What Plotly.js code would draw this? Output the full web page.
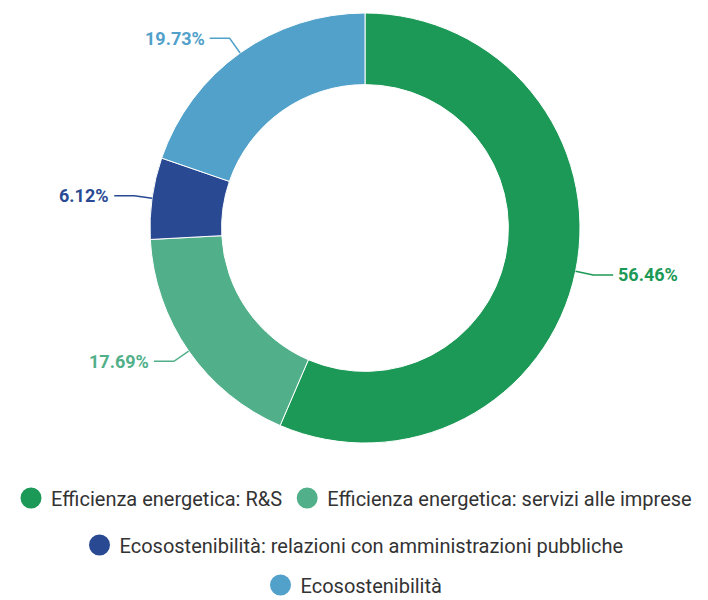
<!DOCTYPE html>
<html><head><meta charset="utf-8">
<script src="https://cdn.plot.ly/plotly-3.0.1.min.js"></script>
<style>html,body{margin:0;padding:0;background:#fff}</style>
</head><body>
<div id="chart" style="width:708px;height:600px"></div>
<script>
// ---- data ----
const categories = [
  "Efficienza energetica: R&S",
  "Efficienza energetica: servizi alle imprese",
  "Ecosostenibilità: relazioni con amministrazioni pubbliche",
  "Ecosostenibilità"
];
const shares = [56.46, 17.69, 6.12, 19.73];
const colors = ["#1c9956", "#51b08a", "#294a93", "#51a1ca"];
const legendRows = ["legend", "legend", "legend2", "legend3"];

// ---- geometry (pixels) ----
const W = 708, H = 600;
const CX = 365, CY = 228, R = 215, HOLE = 0.667;
const ELBOW = 18, RUN = 20, GAP = 3;
const px = x => x / W, py = y => 1 - y / H;

const traces = [{
  type: 'pie',
  values: shares,
  labels: categories,
  marker: {colors: colors, line: {color: '#ffffff', width: 1}},
  hole: HOLE,
  sort: false,
  direction: 'clockwise',
  rotation: 0,
  textinfo: 'none',
  showlegend: false,
  hoverinfo: 'label+percent',
  domain: {x: [px(CX - R), px(CX + R)], y: [py(CY + R), py(CY - R)]}
}];

categories.forEach((c, i) => {
  traces.push({
    type: 'scatter', mode: 'markers', x: [null], y: [null],
    name: c, legend: legendRows[i], hoverinfo: 'skip',
    marker: {color: colors[i], size: 16, line: {color: colors[i], width: 5}}
  });
});

const total = shares.reduce((a, b) => a + b, 0);
const shapes = [], annotations = [];
let cum = 0;
shares.forEach((v, i) => {
  const m = (cum + v / 2) / total;
  cum += v;
  const th = 2 * Math.PI * m;
  const dx = Math.sin(th), dy = -Math.cos(th);
  const x0 = CX + R * dx, y0 = CY + R * dy;
  const x1 = CX + (R + ELBOW) * dx, y1 = CY + (R + ELBOW) * dy;
  const side = dx >= 0 ? 1 : -1;
  const x2 = x1 + side * RUN, y2 = y1;
  shapes.push({
    type: 'path', xref: 'paper', yref: 'paper',
    path: `M ${px(x0)},${py(y0)} L ${px(x1)},${py(y1)} L ${px(x2)},${py(y2)}`,
    line: {color: colors[i], width: 1.5}
  });
  annotations.push({
    xref: 'paper', yref: 'paper', showarrow: false,
    x: px(x2 + side * GAP), y: py(y2),
    xanchor: side > 0 ? 'left' : 'right', yanchor: 'middle',
    text: v.toFixed(2) + '%',
    font: {family: 'Roboto, sans-serif', size: 18, color: colors[i], weight: 700}
  });
});

const legendBase = {
  orientation: 'h', x: 0.5, xanchor: 'center', yanchor: 'middle',
  bgcolor: 'rgba(0,0,0,0)',
  font: {family: 'Roboto, sans-serif', size: 20, color: '#333333'}
};

const layout = {
  width: W, height: H,
  margin: {l: 0, r: 0, t: 0, b: 0, autoexpand: false},
  paper_bgcolor: '#ffffff', plot_bgcolor: '#ffffff',
  xaxis: {visible: false}, yaxis: {visible: false},
  showlegend: true,
  legend: Object.assign({}, legendBase, {y: py(498)}),
  legend2: Object.assign({}, legendBase, {y: py(545)}),
  legend3: Object.assign({}, legendBase, {y: py(585)}),
  shapes: shapes,
  annotations: annotations
};

Plotly.newPlot('chart', traces, layout, {displayModeBar: false, responsive: false});
</script>
</body></html>
